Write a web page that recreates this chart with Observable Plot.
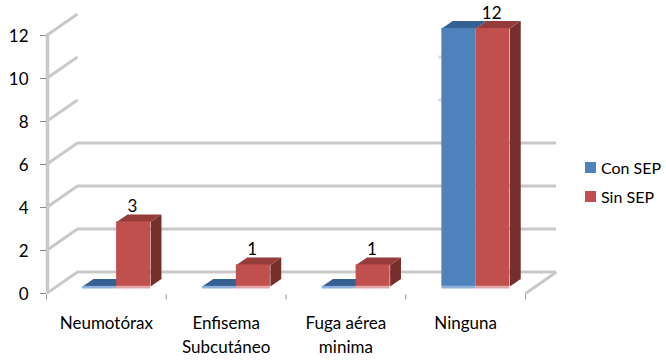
<!DOCTYPE html>
<html lang="es">
<head>
<meta charset="utf-8">
<script src="https://cdn.jsdelivr.net/npm/d3@7"></script>
<script src="https://cdn.jsdelivr.net/npm/@observablehq/plot@0.6"></script>
<style>
  html, body { margin: 0; padding: 0; background: #fff; }
  #chart { position: relative; width: 666px; height: 360px; overflow: hidden; font-family: Lato, sans-serif; }
  #chart svg { display: block; }
  .legend { position: absolute; left: 585px; top: 153px; font-size: 16px; color: #000; }
  .legend div { display: flex; align-items: center; height: 29px; }
  .legend i { display: block; width: 11px; height: 11px; margin-right: 5px; }
</style>
</head>
<body>
<div id="chart"></div>
<script>
const categories = ["Neumotórax", "Enfisema\nSubcutáneo", "Fuga aérea\nminima", "Ninguna"];
const conSep = [0, 0, 0, 12];
const sinSep = [3, 1, 1, 12];
const yTicks = [0, 2, 4, 6, 8, 10, 12];
const wallLines = [0, 2, 4, 6];
const wallStubs = [8, 10];
const xTicks = [0, 1, 2, 3, 4];

const palette = {
  blue: "#4f81bd", blueTop: "#376092", blueEdge: "#8fb0da",
  red: "#c0504d", redTop: "#953c3a", redSide: "#772f2d", redEdge: "#e3a6a4",
  wall: "#c9c9c9", stub: "#dcdcdc", tick: "#8c8c8c"
};

// Oblique projection: depth 1 moves a point right and up by one floor depth.
const depthX = 0.259;
const depthY = 1;
const frontDepth = 0.33;
const backDepth = 0.68;
const barWidth = 0.284;
const px = (u, d) => u + d * depthX;
const py = (v, d) => v + d * depthY;

const bars = [];
categories.forEach((name, i) => {
  const c = i + 0.5;
  bars.push({id: "con" + i, series: "con", u1: c - barWidth, u2: c, value: conSep[i]});
  bars.push({id: "sin" + i, series: "sin", u1: c, u2: c + barWidth, value: sinSep[i]});
});

function topFace(b) {
  return [[b.u1, frontDepth], [b.u2, frontDepth], [b.u2, backDepth], [b.u1, backDepth]]
    .map(([u, d]) => ({id: b.id, x: px(u, d), y: py(b.value, d)}));
}
function sideFace(b) {
  return [[b.value, frontDepth], [b.value, backDepth], [0, backDepth], [0, frontDepth]]
    .map(([v, d]) => ({id: b.id, x: px(b.u2, d), y: py(v, d)}));
}

const con = bars.filter(b => b.series === "con");
const sin = bars.filter(b => b.series === "sin");
const polygon = (rows, fill) => Plot.line(rows, {x: "x", y: "y", z: "id", fill, stroke: "none"});
const front = (rows, fill) => Plot.rect(rows.filter(b => b.value > 0), {
  x1: b => px(b.u1, frontDepth), x2: b => px(b.u2, frontDepth),
  y1: py(0, frontDepth), y2: b => py(b.value, frontDepth), fill
});
const baseEdge = (rows, fill) => Plot.rect(rows, {
  x1: b => px(b.u1, frontDepth), x2: b => px(b.u2, frontDepth),
  y1: py(0, frontDepth), y2: py(0, frontDepth) - 0.12, fill
});

const chart = Plot.plot({
  width: 666,
  height: 360,
  marginTop: 35,
  marginBottom: 67,
  marginLeft: 46,
  marginRight: 141,
  style: {background: "#fff", fontFamily: "Lato, sans-serif", fontSize: "15px", color: "#000", overflow: "visible"},
  x: {domain: [0, 4], axis: null},
  y: {domain: [0, 12], axis: null},
  marks: [
    // Walls and floor edges
    Plot.ruleY(wallLines, {y: v => py(v, 1), x1: px(0, 1), x2: px(4, 1), stroke: palette.wall, strokeWidth: 3}),
    Plot.ruleY(wallStubs, {y: v => py(v, 1), x1: 3.275, x2: 3.31, stroke: palette.stub, strokeWidth: 3}),
    Plot.link(yTicks, {x1: 0, y1: v => v, x2: px(0, 1), y2: v => py(v, 1), stroke: palette.wall, strokeWidth: 3}),
    Plot.link([4], {x1: v => v, y1: 0, x2: v => px(v, 1), y2: py(0, 1), stroke: palette.wall, strokeWidth: 3}),
    Plot.ruleX([0], {y1: 0, y2: 12, dx: 1, stroke: palette.wall, strokeWidth: 3.5}),

    // Axes
    Plot.ruleX(xTicks, {y1: -0.07, y2: -0.3, stroke: palette.tick, strokeWidth: 1}),
    Plot.axisY({ticks: yTicks, tickSize: 6, marks: undefined, stroke: palette.tick, text: null, label: null}),
    Plot.text(yTicks, {
      x: 0, y: v => v, dx: -18, dy: 1.5, text: v => String(v), textAnchor: "end",
      fontSize: 17, fill: "#000"
    }),
    Plot.text(categories, {
      x: (d, i) => i + 0.5, y: 0, dy: 18, text: d => d, lineAnchor: "top",
      lineHeight: 1.42, fontSize: 17, fill: "#000"
    }),

    // Bars
    polygon(con.flatMap(topFace), palette.blueTop),
    front(con, palette.blue),
    baseEdge(con, palette.blueEdge),
    polygon(sin.flatMap(sideFace), palette.redSide),
    polygon(sin.flatMap(topFace), palette.redTop),
    front(sin, palette.red),
    baseEdge(sin, palette.redEdge),

    // Value labels on the non-zero bars
    Plot.text(bars.filter(b => b.series === "sin" && b.value > 0), {
      x: b => px((b.u1 + b.u2) / 2, frontDepth) - 0.01, y: b => py(b.value, frontDepth),
      dy: -15, text: b => String(b.value), fontSize: 17, fill: "#000"
    })
  ]
});

const root = document.getElementById("chart");
root.appendChild(chart);

// Legend placed beside the plot
const legend = document.createElement("div");
legend.className = "legend";
[["Con SEP", palette.blue], ["Sin SEP", palette.red]].forEach(([label, color]) => {
  const row = document.createElement("div");
  const swatch = document.createElement("i");
  swatch.style.background = color;
  row.appendChild(swatch);
  row.appendChild(document.createTextNode(label));
  legend.appendChild(row);
});
root.appendChild(legend);
</script>
</body>
</html>
